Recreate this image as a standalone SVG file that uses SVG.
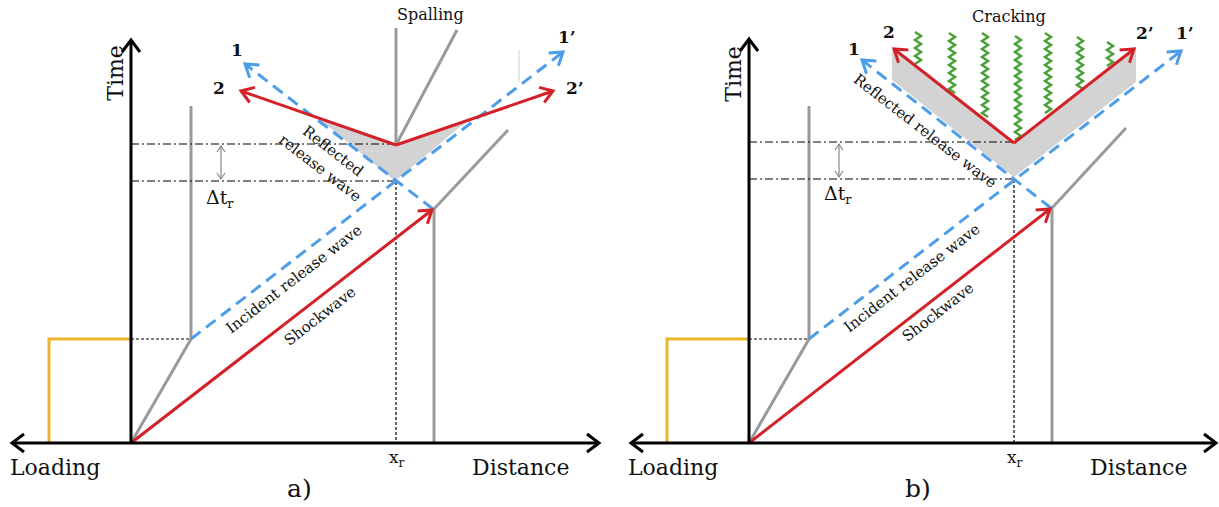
<svg xmlns="http://www.w3.org/2000/svg" width="1219" height="507" viewBox="0 0 1219 507">
<style>
.ax{stroke:#000;stroke-width:3;fill:none}
.gr{stroke:#9a9a9a;stroke-width:3;fill:none}
.rd{stroke:#d42027;stroke-width:3;fill:none}
.bl{stroke:#4d9de8;stroke-width:3;fill:none;stroke-dasharray:12 7}
.yl{stroke:#e9b52a;stroke-width:3;fill:none}
.dd{stroke:#000;stroke-width:1.2;fill:none;stroke-dasharray:8 3 2 3}
.ds{stroke:#000;stroke-width:1.2;fill:none;stroke-dasharray:3 2}
.dt{stroke:#888;stroke-width:1.2;fill:none}
.gn{stroke:#4aa137;stroke-width:2.5;fill:none;stroke-linejoin:miter}
.sh{fill:#d3d3d3;stroke:none}
text{font-family:"DejaVu Serif","Liberation Serif",serif;fill:#111}
.lb{font-size:17px;font-weight:bold}
.sm{font-size:15px}
.big{font-size:22px}
</style>
<defs>
<marker id="mK" viewBox="-16 -11 20 22" refX="0" refY="0" markerWidth="20" markerHeight="22" orient="auto-start-reverse" markerUnits="userSpaceOnUse"><path d="M-12,-9 L0,0 L-12,9" fill="none" stroke="#000" stroke-width="3"/></marker>
<marker id="mR" viewBox="-16 -11 20 22" refX="0" refY="0" markerWidth="20" markerHeight="22" orient="auto" markerUnits="userSpaceOnUse"><path d="M-12,-8 L0,0 L-12,8" fill="none" stroke="#d42027" stroke-width="3"/></marker>
<marker id="mB" viewBox="-16 -11 20 22" refX="0" refY="0" markerWidth="20" markerHeight="22" orient="auto" markerUnits="userSpaceOnUse"><path d="M-12,-8 L0,0 L-12,8" fill="none" stroke="#4d9de8" stroke-width="3"/></marker>
<marker id="mG" viewBox="-8 -5 10 10" refX="0" refY="0" markerWidth="10" markerHeight="10" orient="auto-start-reverse" markerUnits="userSpaceOnUse"><path d="M-6,-4 L0,0 L-6,4" fill="none" stroke="#888" stroke-width="1.2"/></marker>
</defs>

<g id="panel-a">
  <g id="a-shade"><polygon class="sh" points="318,118 396,145 468,120 395,181"/></g>
  <g id="connectors-a">
    <polyline class="yl" points="49,443 49,339 131,339"/>
    <line class="ds" x1="131" y1="339" x2="190" y2="339"/>
    <polyline class="gr" points="131,443 191,339 191,106"/>
    <polyline class="gr" points="434,443 434,209 508,130"/>
    <line class="gr" x1="396" y1="145" x2="396" y2="28"/>
    <line class="gr" x1="396" y1="145" x2="457" y2="30"/>
    <line x1="519" y1="50" x2="519" y2="82" stroke="#d0d0d0" stroke-width="1"/>
    <line class="dd" x1="131" y1="144" x2="396" y2="144"/>
    <line class="dd" x1="131" y1="181" x2="395" y2="181"/>
    <line class="ds" x1="396" y1="182" x2="396" y2="443"/>
    <line class="dt" x1="221" y1="146" x2="221" y2="179" marker-start="url(#mG)" marker-end="url(#mG)"/>
    <line class="bl" x1="191" y1="339" x2="563" y2="52" marker-end="url(#mB)"/>
    <line class="bl" x1="433" y1="209" x2="245" y2="64" marker-end="url(#mB)"/>
    <line class="rd" x1="131" y1="443" x2="432" y2="210" marker-end="url(#mR)"/>
    <line class="rd" x1="396" y1="145" x2="241" y2="91" marker-end="url(#mR)"/>
    <line class="rd" x1="396" y1="145" x2="553" y2="91" marker-end="url(#mR)"/>
    <line class="ax" x1="12" y1="443" x2="599" y2="443" marker-start="url(#mK)" marker-end="url(#mK)"/>
    <line class="ax" x1="131" y1="443" x2="131" y2="40" marker-end="url(#mK)"/>
  </g>
  <g id="a-labels">
    <text class="big" transform="translate(123,73) rotate(-90)" text-anchor="middle">Time</text>
    <text class="big" x="10" y="475">Loading</text>
    <text class="big" x="472" y="475">Distance</text>
    <text x="287" y="497" font-size="25">a)</text>
    <text x="389" y="463" font-size="17">x<tspan font-size="12" dy="4">r</tspan></text>
    <text x="206" y="204" font-size="19">Δt<tspan font-size="13" dy="4">r</tspan></text>
    <text x="397" y="20" font-size="16">Spalling</text>
    <text class="lb" x="231" y="56">1</text>
    <text class="lb" x="213" y="94">2</text>
    <text class="lb" x="558" y="43">1’</text>
    <text class="lb" x="566" y="94">2’</text>
    <text class="sm" transform="translate(330,155) rotate(37.7)" text-anchor="middle">Reflected</text>
    <text class="sm" transform="translate(317,172) rotate(37.7)" text-anchor="middle">release wave</text>
    <text class="sm" transform="translate(297,283) rotate(-37.7)" text-anchor="middle">Incident release wave</text>
    <text class="sm" transform="translate(323,320) rotate(-37.7)" text-anchor="middle">Shockwave</text>
  </g>
</g>

<g id="panel-b">
  <g id="b-shade"><polygon class="sh" points="892,48 1014,143 1136,48 1136,82 1014,177 892,80"/></g>
  <g id="b-cracks">
    <path class="gn" d="M915,32 l6,4 l-6,4 l6,4 l-6,4 l6,4 l-6,4 l6,4 l-6,4"/>
    <path class="gn" d="M949,33 l6,4 l-6,4 l6,4 l-6,4 l6,4 l-6,4 l6,4 l-6,4 l6,4 l-6,4 l6,4 l-6,4 l6,4 l-6,4 l6,4"/>
    <path class="gn" d="M982,33 l6,4 l-6,4 l6,4 l-6,4 l6,4 l-6,4 l6,4 l-6,4 l6,4 l-6,4 l6,4 l-6,4 l6,4 l-6,4 l6,4 l-6,4 l6,4 l-6,4 l6,4 l-6,4 l6,4"/>
    <path class="gn" d="M1015,36 l6,4 l-6,4 l6,4 l-6,4 l6,4 l-6,4 l6,4 l-6,4 l6,4 l-6,4 l6,4 l-6,4 l6,4 l-6,4 l6,4 l-6,4 l6,4 l-6,4 l6,4 l-6,4 l6,4 l-6,4 l6,4 l-6,4 l6,4 l-6,4"/>
    <path class="gn" d="M1045,33 l6,4 l-6,4 l6,4 l-6,4 l6,4 l-6,4 l6,4 l-6,4 l6,4 l-6,4 l6,4 l-6,4 l6,4 l-6,4 l6,4 l-6,4 l6,4 l-6,4 l6,4 l-6,4"/>
    <path class="gn" d="M1077,37 l6,4 l-6,4 l6,4 l-6,4 l6,4 l-6,4 l6,4 l-6,4 l6,4 l-6,4 l6,4 l-6,4 l6,4"/>
    <path class="gn" d="M1107,42 l6,4 l-6,4 l6,4 l-6,4 l6,4 l-6,4"/>
  </g>
  <g id="connectors-b">
    <polyline class="yl" points="667,443 667,339 749,339"/>
    <line class="ds" x1="749" y1="339" x2="808" y2="339"/>
    <polyline class="gr" points="749,443 809,339 809,106"/>
    <polyline class="gr" points="1052,443 1052,208 1126,128"/>
    <line class="dd" x1="749" y1="142" x2="1014" y2="142"/>
    <line class="dd" x1="749" y1="179" x2="1013" y2="179"/>
    <line class="ds" x1="1014" y1="180" x2="1014" y2="443"/>
    <line class="dt" x1="839" y1="144" x2="839" y2="177" marker-start="url(#mG)" marker-end="url(#mG)"/>
    <line class="bl" x1="809" y1="339" x2="1181" y2="51" marker-end="url(#mB)"/>
    <line class="bl" x1="1051" y1="208" x2="862" y2="60" marker-end="url(#mB)"/>
    <line class="rd" x1="749" y1="443" x2="1050" y2="209" marker-end="url(#mR)"/>
    <line class="rd" x1="1014" y1="143" x2="894" y2="49" marker-end="url(#mR)"/>
    <line class="rd" x1="1014" y1="143" x2="1134" y2="49" marker-end="url(#mR)"/>
    <line class="ax" x1="631" y1="443" x2="1216" y2="443" marker-start="url(#mK)" marker-end="url(#mK)"/>
    <line class="ax" x1="749" y1="443" x2="749" y2="39" marker-end="url(#mK)"/>
  </g>
  <g id="b-labels">
    <text class="big" transform="translate(741,74) rotate(-90)" text-anchor="middle">Time</text>
    <text class="big" x="628" y="475">Loading</text>
    <text class="big" x="1090" y="475">Distance</text>
    <text x="905" y="497" font-size="25">b)</text>
    <text x="1007" y="463" font-size="17">x<tspan font-size="12" dy="4">r</tspan></text>
    <text x="824" y="200" font-size="19">Δt<tspan font-size="13" dy="4">r</tspan></text>
    <text x="972" y="22" font-size="16">Cracking</text>
    <text class="lb" x="848" y="55">1</text>
    <text class="lb" x="883" y="38">2</text>
    <text class="lb" x="1136" y="39">2’</text>
    <text class="lb" x="1176" y="39">1’</text>
    <text class="sm" transform="translate(922,135) rotate(37.7)" text-anchor="middle">Reflected release wave</text>
    <text class="sm" transform="translate(915,282) rotate(-37.7)" text-anchor="middle">Incident release wave</text>
    <text class="sm" transform="translate(941,316) rotate(-37.7)" text-anchor="middle">Shockwave</text>
  </g>
</g>
</svg>
